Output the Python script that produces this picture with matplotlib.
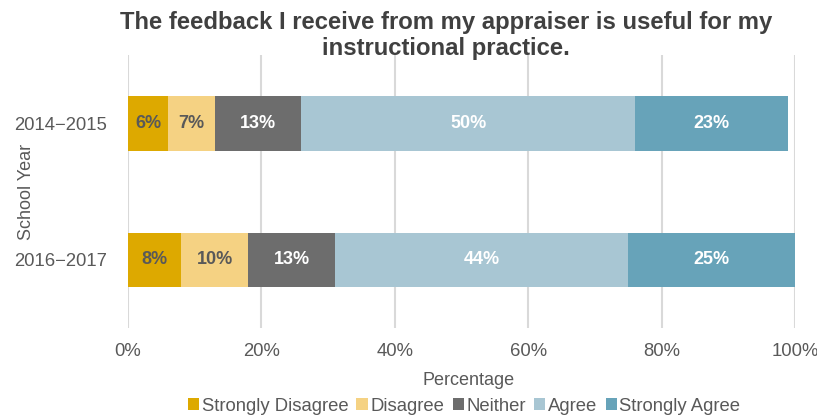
import matplotlib
matplotlib.use("Agg")
import matplotlib.pyplot as plt
from matplotlib.patches import Patch

plt.rcParams['font.family'] = ['Liberation Sans', 'DejaVu Sans']

years = ["2014\u22122015", "2016\u22122017"]
categories = ["Strongly Disagree", "Disagree", "Neither", "Agree", "Strongly Agree"]
values = {
    "Strongly Disagree": [6, 8],
    "Disagree": [7, 10],
    "Neither": [13, 13],
    "Agree": [50, 44],
    "Strongly Agree": [23, 25],
}
colors = ["#DDA900", "#F5D283", "#6D6D6D", "#A8C6D3", "#67A3B9"]
label_colors = ["#595959", "#595959", "white", "white", "white"]

fig = plt.figure(figsize=(8.17, 4.16), dpi=100)
ax = fig.add_axes([0.1567, 0.2115, 0.8164, 0.656])

ypos = list(range(len(years)))
left = [0] * len(years)
for cat, col, lc in zip(categories, colors, label_colors):
    vals = values[cat]
    ax.barh(ypos, vals, left=left, height=0.4, color=col, zorder=3)
    for y, v, l in zip(ypos, vals, left):
        ax.text(l + v / 2, y, f"{v}%", ha="center", va="center", color=lc,
                fontsize=13, fontweight="bold", zorder=4)
    left = [a + b for a, b in zip(left, vals)]

ax.set_xlim(0, 100)
ax.set_ylim(1.5, -0.5)
ax.set_yticks(ypos)
ax.set_yticklabels(years)
ax.set_xticks([0, 20, 40, 60, 80, 100])
ax.set_xticklabels(["0%", "20%", "40%", "60%", "80%", "100%"])
ax.tick_params(axis="both", length=0, labelsize=13.3, labelcolor="#595959")
ax.tick_params(axis="x", pad=11)
ax.tick_params(axis="y", pad=15)
ax.grid(axis="x", color="#D9D9D9", linewidth=1.5, zorder=0)
for s in ax.spines.values():
    s.set_visible(False)

ax.set_xlabel("Percentage", fontsize=13, color="#595959")
ax.xaxis.set_label_coords(0.51, -0.162)
ax.set_ylabel("School Year", fontsize=13, color="#595959")
ax.yaxis.set_label_coords(-0.139, 0.5)

fig.text(0.546, 0.974, "The feedback I receive from my appraiser is useful for my\ninstructional practice.",
         ha="center", va="top", fontsize=17.2, fontweight="bold", color="#404040", linespacing=1.2)

handles = [Patch(facecolor=c, label=n) for c, n in zip(colors, categories)]
fig.legend(handles=handles, loc="lower center", bbox_to_anchor=(0.568, -0.037), ncol=5,
           frameon=False, fontsize=13.3, handlelength=0.6, handleheight=0.6,
           handletextpad=0.15, columnspacing=0.45, labelcolor="#595959")

fig.savefig("out.png", dpi=100)
